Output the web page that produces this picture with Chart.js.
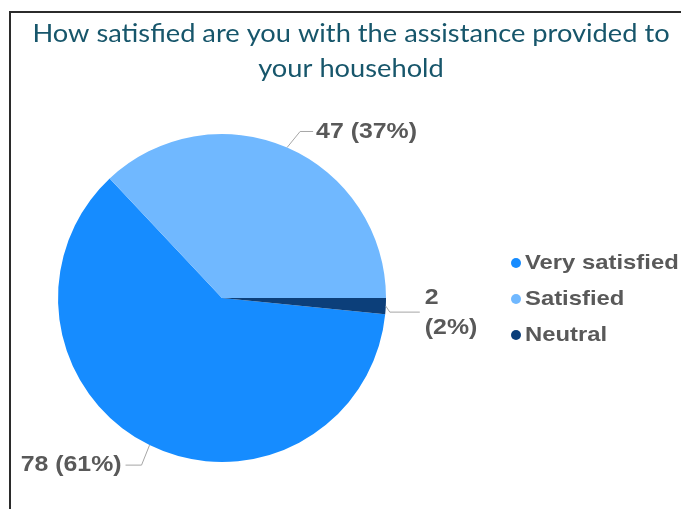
<!DOCTYPE html>
<html>
<head>
<meta charset="utf-8">
<title>Household assistance satisfaction</title>
<script src="https://cdn.jsdelivr.net/npm/chart.js@4/dist/chart.umd.min.js"></script>
<style>
  html, body { margin: 0; padding: 0; background: #ffffff; }
  #wrap { position: relative; width: 681px; height: 509px; }
  canvas { display: block; }
</style>
</head>
<body>
<div id="wrap"><canvas id="pie" width="681" height="509"></canvas></div>
<script>
// Survey responses
const titleLines = ['How satisfied are you with the assistance provided to', 'your household'];
const categories = ['Very satisfied', 'Satisfied', 'Neutral'];
const responses = [78, 47, 2];
const sliceColors = ['#168cff', '#70b8ff', '#0c3f7a'];

// Leader-line layout per slice: elbow offset from the slice edge, then a horizontal run
const leaderLayout = [
  { elbow: [-8, 20], run: -16, align: 'right', split: false },
  { elbow: [13, -16], run: 13, align: 'left', split: false },
  { elbow: [4, 6], run: 30, align: 'left', split: true }
];

const total = responses.reduce((a, b) => a + b, 0);
const labelColor = '#595959';
const boldFamily = '"Liberation Sans", Arial, sans-serif';

// text drawn slightly widened horizontally
function wideText(ctx, text, x, y, align, sx) {
  ctx.save();
  ctx.translate(x, y);
  ctx.scale(sx, 1);
  ctx.textAlign = align;
  ctx.fillText(text, 0, 0);
  ctx.restore();
}

const decorations = {
  id: 'decorations',
  afterDraw(chart) {
    const ctx = chart.ctx;
    ctx.save();

    // frame lines along the left and top
    ctx.strokeStyle = '#2b2b2b';
    ctx.lineWidth = 2;
    ctx.beginPath();
    ctx.moveTo(10, 509);
    ctx.lineTo(10, 12);
    ctx.lineTo(681, 12);
    ctx.stroke();

    // title
    ctx.fillStyle = '#17566b';
    ctx.font = '25px Lato, "Open Sans", sans-serif';
    ctx.textBaseline = 'alphabetic';
    wideText(ctx, titleLines[0], 351, 42, 'center', 1.09);
    wideText(ctx, titleLines[1], 351, 77, 'center', 1.09);

    // value labels with leader lines
    const meta = chart.getDatasetMeta(0);
    meta.data.forEach((arc, i) => {
      const p = arc.getProps(['x', 'y', 'startAngle', 'endAngle', 'outerRadius'], true);
      const mid = (p.startAngle + p.endAngle) / 2;
      const sx = p.x + Math.cos(mid) * p.outerRadius;
      const sy = p.y + Math.sin(mid) * p.outerRadius;
      const L = leaderLayout[i];
      const ex = sx + L.elbow[0];
      const ey = sy + L.elbow[1];
      const hx = ex + L.run;
      ctx.strokeStyle = '#a6a6a6';
      ctx.lineWidth = 1;
      ctx.beginPath();
      ctx.moveTo(sx, sy);
      ctx.lineTo(ex, ey);
      ctx.lineTo(hx, ey);
      ctx.stroke();

      const v = responses[i];
      const pct = Math.round(v / total * 100) + '%';
      ctx.fillStyle = labelColor;
      ctx.font = 'bold 22px ' + boldFamily;
      ctx.textBaseline = 'middle';
      if (L.split) {
        wideText(ctx, String(v), hx + 5, ey - 14, 'left', 1.13);
        wideText(ctx, '(' + pct + ')', hx + 5, ey + 16, 'left', 1.13);
      } else if (L.align === 'right') {
        wideText(ctx, v + ' (' + pct + ')', hx - 4, ey, 'right', 1.13);
      } else {
        wideText(ctx, v + ' (' + pct + ')', hx + 3, ey, 'left', 1.13);
      }
    });

    // legend
    const legendY = [263, 299, 335];
    categories.forEach((name, i) => {
      ctx.fillStyle = sliceColors[i];
      ctx.beginPath();
      ctx.arc(516, legendY[i], 5, 0, Math.PI * 2);
      ctx.fill();
      ctx.fillStyle = labelColor;
      ctx.font = 'bold 21px ' + boldFamily;
      ctx.textBaseline = 'middle';
      wideText(ctx, name, 525, legendY[i], 'left', 1.135);
    });

    ctx.restore();
  }
};

new Chart(document.getElementById('pie'), {
  type: 'pie',
  data: {
    labels: categories,
    datasets: [{
      data: responses,
      backgroundColor: sliceColors,
      borderWidth: 0
    }]
  },
  options: {
    responsive: false,
    animation: false,
    // first slice begins just below the 3 o'clock position, after the small neutral slice
    rotation: 90 + responses[2] / total * 360,
    layout: { padding: { left: 58, right: 295, top: 134, bottom: 47 } },
    plugins: {
      legend: { display: false },
      title: { display: false },
      tooltip: { enabled: false }
    }
  },
  plugins: [decorations]
});
</script>
</body>
</html>
